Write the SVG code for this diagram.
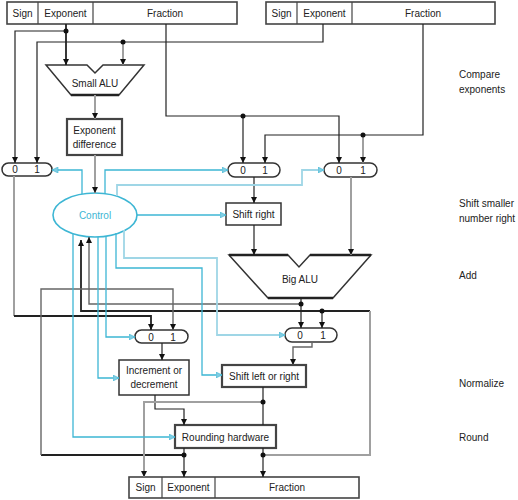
<svg xmlns="http://www.w3.org/2000/svg" width="518" height="500" viewBox="0 0 518 500">
<style>
text{font-family:"Liberation Sans",Arial,sans-serif;font-size:10px;fill:#222;text-anchor:middle}
.lbl{text-anchor:start}
.box{fill:#fff;stroke:#333;stroke-width:1.5}
.tbox{fill:#fff;stroke:#444;stroke-width:2.2}
.reg{fill:#fff;stroke:#444;stroke-width:1.6}
.div{stroke:#444;stroke-width:1.2}
.edge{stroke:#222;stroke-width:2.4}
.k{fill:none;stroke:#222;stroke-width:1.2}
.km{fill:none;stroke:#666;stroke-width:1.4}
.kb{fill:none;stroke:#222;stroke-width:1.8}
.g{fill:none;stroke:#a0a0a0;stroke-width:2}
.c{fill:none;stroke:#3db6d4;stroke-width:1.3}
.cl{fill:none;stroke:#9fd6e6;stroke-width:1.8}
.dot{fill:#111}
</style>
<defs>
<marker id="ak" viewBox="0 0 10 10" refX="10" refY="5" markerWidth="6" markerHeight="7" markerUnits="userSpaceOnUse" orient="auto"><path d="M0,0 L10,5 L0,10 z" fill="#111"/></marker>
<marker id="ac" viewBox="0 0 10 10" refX="10" refY="5" markerWidth="7" markerHeight="6" markerUnits="userSpaceOnUse" orient="auto"><path d="M0,0 L10,5 L0,10 z" fill="#7fcde3" stroke="#3db6d4" stroke-width="1"/></marker>
</defs>

<g id="reg-a">
<rect class="reg" x="7" y="2" width="230" height="22"/>
<line class="div" x1="38" y1="2" x2="38" y2="24"/>
<line class="div" x1="93" y1="2" x2="93" y2="24"/>
<text x="22.5" y="16.5">Sign</text>
<text x="65.5" y="16.5">Exponent</text>
<text x="165" y="16.5">Fraction</text>
</g>
<g id="reg-b">
<rect class="reg" x="266" y="2" width="229" height="22"/>
<line class="div" x1="297" y1="2" x2="297" y2="24"/>
<line class="div" x1="352" y1="2" x2="352" y2="24"/>
<text x="281.5" y="16.5">Sign</text>
<text x="324.5" y="16.5">Exponent</text>
<text x="423" y="16.5">Fraction</text>
</g>
<g id="small-alu">
<polygon class="box" points="46,65 87,65 95,73 103,65 144,65 119,95 71,95"/>
<line class="edge" x1="71" y1="95" x2="119" y2="95"/>
<text x="95" y="87">Small ALU</text>
</g>
<g id="exp-diff">
<rect class="tbox" x="67" y="119" width="55" height="36"/>
<text x="94.5" y="134">Exponent</text>
<text x="94.5" y="148">difference</text>
</g>
<g id="mux1">
<rect class="box" x="2" y="163" width="50" height="13" rx="6.5"/>
<text x="15" y="173">0</text><text x="37" y="173">1</text>
</g>
<g id="mux2">
<rect class="box" x="228" y="163" width="52" height="14" rx="7"/>
<text x="243" y="173.5">0</text><text x="265" y="173.5">1</text>
</g>
<g id="mux3">
<rect class="box" x="324" y="163" width="53" height="14" rx="7"/>
<text x="339" y="173.5">0</text><text x="363" y="173.5">1</text>
</g>
<g id="control">
<ellipse cx="95" cy="215" rx="42" ry="22" fill="#fff" stroke="#3db6d4" stroke-width="1.6"/>
<text x="95" y="219" style="fill:#3db6d4">Control</text>
</g>
<g id="shift-right">
<rect class="box" x="226" y="203" width="55" height="22"/>
<text x="253.5" y="218">Shift right</text>
</g>
<g id="big-alu">
<polygon class="box" points="229,255 288,255 299,267 310,255 371,255 333,298 268,298"/>
<path class="edge" fill="none" d="M229,255 H288 M310,255 H371 M268,298 H333"/>
<text x="300" y="283">Big ALU</text>
</g>
<g id="mux4">
<rect class="box" x="135" y="330" width="53" height="13" rx="6.5"/>
<text x="151" y="340.5">0</text><text x="173" y="340.5">1</text>
</g>
<g id="mux5">
<rect class="box" x="285" y="328" width="52" height="14" rx="7"/>
<text x="300" y="338.5">0</text><text x="323" y="338.5">1</text>
</g>
<g id="inc-dec">
<rect class="box" x="119" y="360" width="70" height="35"/>
<text x="154" y="374">Increment or</text>
<text x="154" y="388">decrement</text>
</g>
<g id="shift-lr">
<rect class="tbox" x="222" y="365" width="84" height="22"/>
<text x="264" y="380">Shift left or right</text>
</g>
<g id="rounding">
<rect class="tbox" x="175" y="425" width="101" height="23"/>
<text x="225.5" y="440.5">Rounding hardware</text>
</g>
<g id="reg-out">
<rect class="reg" x="129" y="477" width="230" height="21"/>
<line class="div" x1="162" y1="477" x2="162" y2="498"/>
<line class="div" x1="215" y1="477" x2="215" y2="498"/>
<text x="145.5" y="491">Sign</text>
<text x="188.5" y="491">Exponent</text>
<text x="287" y="491">Fraction</text>
</g>
<g id="stage-labels">
<text class="lbl" x="459" y="78">Compare</text>
<text class="lbl" x="459" y="93">exponents</text>
<text class="lbl" x="459" y="207">Shift smaller</text>
<text class="lbl" x="459" y="222">number right</text>
<text class="lbl" x="459" y="279">Add</text>
<text class="lbl" x="459" y="387">Normalize</text>
<text class="lbl" x="459" y="441">Round</text>
</g>

<g id="connectors">
<path class="kb" d="M66,24 V65" marker-end="url(#ak)"/>
<path class="k" d="M66,31 H15 V163" marker-end="url(#ak)"/>
<path class="k" d="M323,24 V42 H37 V163" marker-end="url(#ak)"/>
<path class="g" d="M123,42 V65" marker-end="url(#ak)"/>
<path class="g" d="M95,95 V119" marker-end="url(#ak)"/>
<path class="g" d="M95,155 V193" marker-end="url(#ak)"/>
<path class="k" d="M166,24 V116 H339 V163" marker-end="url(#ak)"/>
<path class="k" d="M243,116 V163" marker-end="url(#ak)"/>
<path class="k" d="M423,24 V135 H265 V163" marker-end="url(#ak)"/>
<path class="g" d="M363,135 V163" marker-end="url(#ak)"/>
<path class="k" d="M254,177 V203" marker-end="url(#ak)"/>
<path class="k" d="M254,225 V255" marker-end="url(#ak)"/>
<path class="g" d="M351,177 V255" marker-end="url(#ak)"/>
<path class="k" d="M301,298 V328" marker-end="url(#ak)"/>
<path class="km" d="M301,304 H89 V237" marker-end="url(#ak)"/>
<path class="kb" d="M370,311 H81 V240" marker-end="url(#ak)"/>
<path class="g" d="M263,455 H370 V311"/>
<path class="k" d="M322,311 V328" marker-end="url(#ak)"/>
<path class="g" d="M14,176 V316"/>
<path class="kb" d="M14,316 H151 V330" marker-end="url(#ak)"/>
<path class="kb" d="M185,455 H41"/>
<path class="km" d="M41,455 V289 H173 V330" marker-end="url(#ak)"/>
<path class="k" d="M162,343 V360" marker-end="url(#ak)"/>
<path class="k" d="M155,395 V409 H184 V425" marker-end="url(#ak)"/>
<path class="km" d="M312,342 V347 H293 V365" marker-end="url(#ak)"/>
<path class="k" d="M263,387 V425"/>
<path class="g" d="M263,402 H144 V477" marker-end="url(#ak)"/>
<path class="k" d="M184,448 V477" marker-end="url(#ak)"/>
<path class="k" d="M263,448 V477" marker-end="url(#ak)"/>
<circle class="dot" cx="66" cy="31" r="2.5"/>
<circle class="dot" cx="123" cy="42" r="2.5"/>
<circle class="dot" cx="243" cy="116" r="2.5"/>
<circle class="dot" cx="363" cy="135" r="2.5"/>
<circle class="dot" cx="301" cy="304" r="2.5"/>
<circle class="dot" cx="322" cy="311" r="2.5"/>
<circle class="dot" cx="263" cy="402" r="2.5"/>
<circle class="dot" cx="184" cy="455" r="2.5"/>
<circle class="dot" cx="263" cy="455" r="2.5"/>
<path class="c" d="M82,194 V170 H52" marker-end="url(#ac)"/>
<path class="c" d="M105,194 V170 H228" marker-end="url(#ac)"/>
<path class="cl" d="M117,196 V185 H302 V170 H324" marker-end="url(#ac)"/>
<path class="c" d="M137,215 H226" marker-end="url(#ac)"/>
<path class="c" d="M73,234 V437 H175" marker-end="url(#ac)"/>
<path class="c" d="M98,237 V378 H119" marker-end="url(#ac)"/>
<path class="c" d="M106,236 V337 H135" marker-end="url(#ac)"/>
<path class="c" d="M116,233 V268 H202 V375 H222" marker-end="url(#ac)"/>
<path class="cl" d="M124,230 V258 H217 V335 H285" marker-end="url(#ac)"/>
</g>
</svg>
